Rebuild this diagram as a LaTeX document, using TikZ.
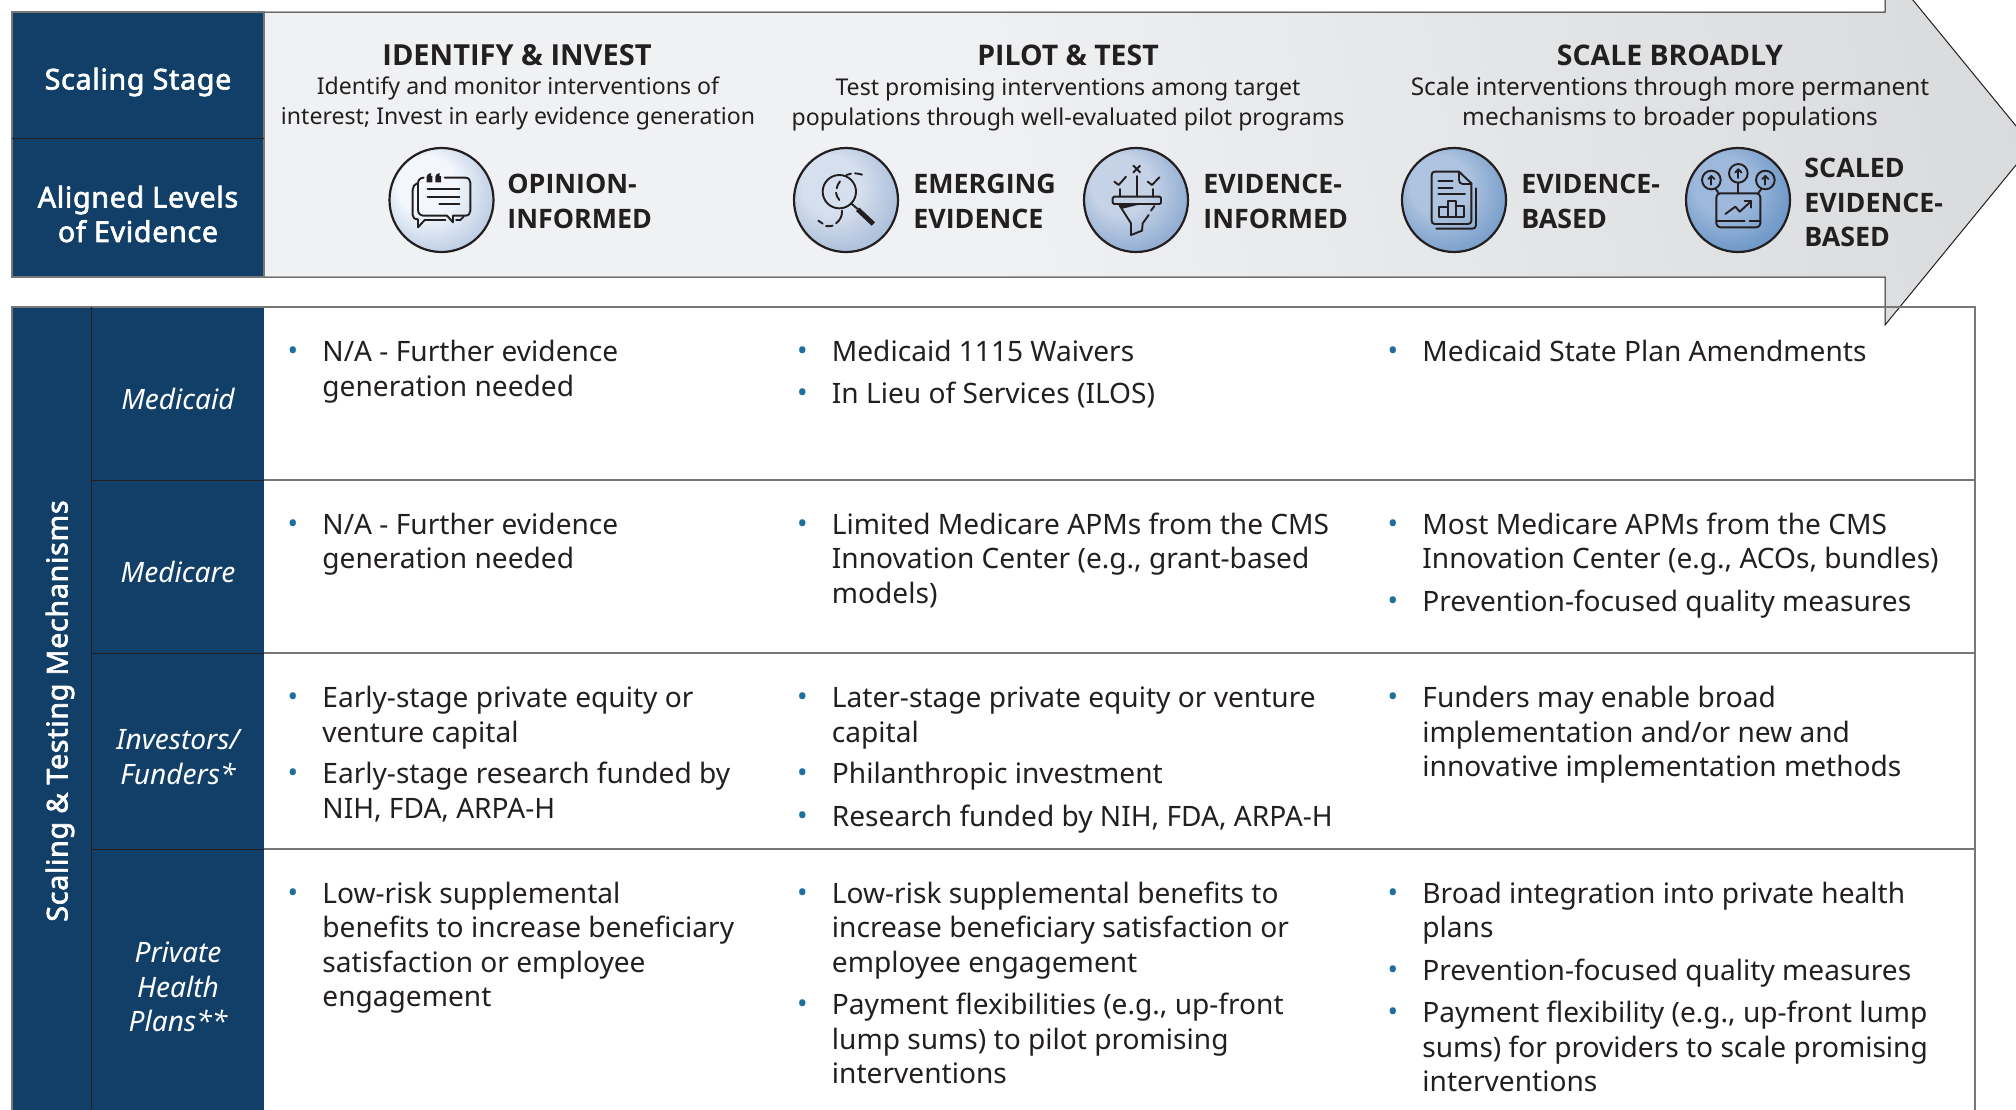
\documentclass[tikz,border=0pt]{standalone}
\usepackage{fontspec}
\setmainfont{Noto Sans}
\newfontfamily\fakeb{Noto Sans}[FakeBold=2.4,LetterSpace=2.5]
\newfontfamily\capsb{Open Sans}
\definecolor{navy}{HTML}{113F67}
\definecolor{ink}{HTML}{231F20}
\definecolor{rulegray}{HTML}{777777}
\definecolor{bulletc}{HTML}{1F6F9E}
\newcommand{\bodyfont}{\fontsize{14.05pt}{17.25pt}\selectfont}
\newcommand{\subfont}{\fontsize{11.55pt}{15pt}\selectfont}
\newcommand{\subfontb}{\fontsize{12.2pt}{15pt}\selectfont}
\newcommand{\titlefont}{\capsb\bfseries\fontsize{14.2pt}{17.25pt}\selectfont}
\newcommand{\titlefontb}{\capsb\bfseries\fontsize{14.5pt}{17.25pt}\selectfont}
\newcommand{\levelfont}{\capsb\bfseries\fontsize{13.4pt}{17.25pt}\selectfont}
\newcommand{\headfont}{\fakeb\fontsize{14.3pt}{17.25pt}\selectfont}
\newcommand{\mystrut}{\rule[-5.2pt]{0pt}{17.25pt}}
\newcommand{\defcirc}[3]{%
  \definecolor{c#1a}{HTML}{#2}\definecolor{c#1b}{HTML}{#3}%
  \pgfdeclareradialshading{circ#1}{\pgfpoint{-10bp}{10bp}}{%
    color(0bp)=(c#1a); color(14bp)=(c#1a); color(36bp)=(c#1b); color(50bp)=(c#1b)}}
\defcirc{op}{F3F7FD}{A9BEDB}
\defcirc{em}{D6DFED}{9CB3D4}
\defcirc{ei}{C6D3E7}{7C9ECA}
\defcirc{eb}{AEC3DF}{6692C3}
\defcirc{sc}{9DB8DB}{5A8BBF}
\definecolor{arrL}{HTML}{F0F1F3}
\definecolor{arrR}{HTML}{CBCCCE}
\pgfdeclarehorizontalshading{arrowsh}{100bp}{color(0bp)=(arrL); color(44bp)=(arrL); color(100bp)=(arrR)}
\tikzset{
  x=0.5pt,y=-0.5pt,
  darkbox/.style={fill=navy,draw=rulegray,line width=0.7pt},
  hrule/.style={draw=rulegray,line width=0.7pt},
  cell/.style={anchor=north west,inner sep=0pt,align=left,font=\bodyfont,text=ink},
  bmark/.style={inner sep=0pt,font=\bodyfont,text=bulletc},
  rowlabel/.style={inner sep=0pt,align=center,font=\bodyfont\itshape,text=white},
  headlabel/.style={inner sep=0pt,align=center,font=\headfont,text=white},
  stagetitle/.style={inner sep=0pt,align=center,font=\titlefont,text=ink},
  stagesub/.style={inner sep=0pt,align=center,font=\subfont,text=ink},
  levellabel/.style={inner sep=0pt,anchor=north west,align=left,font=\levelfont,text=ink},
  ring/.style={draw=ink,line width=1.1pt},
  ico/.style={draw=ink,line width=0.95pt,line cap=round,line join=round},
  zoomed/.style={shift={#1},x=0.16667pt,y=-0.16667pt},
}
\newcommand{\bitem}[4]{%
  \node[bmark] (#1b) at ({#2-29},{#3+3}) {•};
  \node[cell] (#1) at (#2,{#3-14}) {\mystrut #4};}
\begin{document}
\begin{tikzpicture}
\useasboundingbox (0,0) rectangle (2016,1109);
\clip (0,0) rectangle (2016,1109);
% arrow
\path[shading=arrowsh,shading angle=12] (264,12) -- (1885,12) -- (1885,-34) -- (2032,145.5) -- (1885,325) -- (1885,277) -- (264,277) -- cycle;
\draw[draw=ink,line width=0.5pt] (264,12) -- (1885,12) -- (1885,-34) -- (2032,145.5) -- (1885,325) -- (1885,277) -- (264,277);
% header box
\draw[darkbox] (12,12) rectangle (264,277);
\draw[draw=ink,line width=0.5pt] (12,138) -- (264,138);
\node[headlabel] (stage) at (138,82) {Scaling Stage};
\node[headlabel] (levels) at (138,214) {Aligned Levels\\of Evidence};
% stage heads
\node[stagetitle,font=\titlefontb] (t1) at (517,55) {IDENTIFY \& INVEST};
\node[stagetitle] (t2) at (1068,55) {PILOT \& TEST};
\node[stagetitle] (t3) at (1670,55) {SCALE BROADLY};
\node[stagesub] (s1) at (518,103) {Identify and monitor interventions of\\interest; Invest in early evidence generation};
\node[stagesub] (s2) at (1068,104.5) {Test promising interventions among target\\populations through well-evaluated pilot programs};
\node[stagesub,font=\subfontb] (s3) at (1670,104.5) {Scale interventions through more permanent\\mechanisms to broader populations};
% level labels
\node[levellabel] (l1) at (507,169) {\mystrut OPINION-\\INFORMED};
\node[levellabel] (l2) at (913,169) {\mystrut EMERGING\\EVIDENCE};
\node[levellabel] (l3) at (1203,169) {\mystrut EVIDENCE-\\INFORMED};
\node[levellabel] (l4) at (1521,169) {\mystrut EVIDENCE-\\BASED};
\node[levellabel] (l5) at (1804,153) {\mystrut SCALED\\EVIDENCE-\\BASED};
% circles
\path[shading=circop] (441.5,200) circle[radius=52];
\draw[ring] (441.5,200) circle[radius=52];
\path[shading=circem] (846,200) circle[radius=52];
\draw[ring] (846,200) circle[radius=52];
\path[shading=circei] (1136,200) circle[radius=52];
\draw[ring] (1136,200) circle[radius=52];
\path[shading=circeb] (1454,200) circle[radius=52];
\draw[ring] (1454,200) circle[radius=52];
\path[shading=circsc] (1738,200) circle[radius=52];
\draw[ring] (1738,200) circle[radius=52];
% opinion icon
\begin{scope}[zoomed={(382,140)}]
\draw[ico] (125,113) .. controls (115,113) and (108,120) .. (108,130) -- (108,210) .. controls (108,220) and (115,227) .. (125,227) -- (195,227) -- (213,247) -- (213,227) -- (250,227) .. controls (260,227) and (265,220) .. (265,212) -- (265,128) .. controls (265,120) and (260,113) .. (250,113) -- (188,113);
\draw[ico] (105,130) .. controls (97,133) and (92,140) .. (92,150) -- (92,225) .. controls (92,233) and (98,238) .. (108,238) -- (108,262) -- (128,240) -- (190,240);
\draw[ico] (222,240) -- (235,240) -- (245,230);
\draw[ico] (137,147) -- (232,147);
\draw[ico] (137,170) -- (232,170);
\draw[ico] (172,192) -- (232,192);
\fill[ink] (134,127) -- (134,110) .. controls (134,104) and (140,100) .. (147,99) -- (147,108) -- (151,108) -- (151,127) -- cycle;
\fill[ink] (160,127) -- (160,110) .. controls (160,104) and (166,100) .. (173,99) -- (173,108) -- (177,108) -- (177,127) -- cycle;
\end{scope}
% magnifier icon
\begin{scope}[zoomed={(786,140)}]
\draw[ico] (160,155) circle[radius=50];
\draw[ico] (195,190) -- (215,207);
\draw[ink,line width=2.4pt] (215,208) -- (262,252);
\draw[ico] (181,105) .. controls (186,103) and (190,102) .. (195,101);
\draw[ico] (207,100) .. controls (214,100) and (221,102) .. (228,104);
\draw[ico] (162,124) .. controls (157,130) and (153,138) .. (152,145);
\draw[ico] (150,158) .. controls (151,166) and (155,174) .. (160,180);
\draw[ico] (168,212) .. controls (169,225) and (164,240) .. (150,250);
\draw[ico] (140,257) .. controls (133,259) and (127,259) .. (120,258);
\draw[ico] (110,251) -- (97,242);
\end{scope}
% funnel icon
\begin{scope}[zoomed={(1076,140)}]
\draw[ico] (114,170) -- (251,170) -- (255,174) -- (255,188) -- (251,192) -- (114,192) -- (110,188) -- (110,174) -- cycle;
\draw[ico] (172,77) -- (192,97);
\draw[ico] (192,77) -- (172,97);
\draw[ico] (182,108) -- (182,168);
\draw[ico] (115,125) -- (128,135) -- (150,110);
\draw[ico] (132,147) -- (132,170);
\draw[ico] (215,125) -- (228,135) -- (250,112);
\draw[ico] (230,147) -- (230,170);
\draw[ico] (130,195) -- (165,250) -- (165,285) -- (198,272) -- (200,250) -- (218,225);
\draw[ico] (225,212) -- (235,198);
\fill[ink] (130,193) -- (192,193) -- (140,206) -- cycle;
\end{scope}
% document icon
\begin{scope}[zoomed={(1394,140)}]
\draw[ico] (122,95) -- (195,95) -- (232,130) -- (232,242) .. controls (232,248) and (228,252) .. (222,252) -- (122,252) .. controls (116,252) and (113,248) .. (113,242) -- (113,105) .. controls (113,99) and (116,95) .. (122,95) -- cycle;
\draw[ico] (195,95) -- (195,120) .. controls (195,127) and (199,132) .. (206,132) -- (232,132);
\draw[ico] (127,266) -- (235,266) .. controls (242,266) and (246,262) .. (246,255) -- (246,145);
\draw[ico] (133,122) -- (176,122);
\draw[ico] (133,143) -- (176,143);
\draw[ico] (133,162) -- (213,162);
\draw[ico] (136,200) rectangle (161,230);
\draw[ico] (161,183) rectangle (186,230);
\draw[ico] (186,197) rectangle (210,230);
\end{scope}
% growth icon
\begin{scope}[zoomed={(1678,140)}]
\draw[ico] (100,120) circle[radius=28];
\draw[ico] (181,100) circle[radius=28];
\draw[ico] (262,120) circle[radius=28];
\draw[ico] (100,134) -- (100,108);
\draw[ico] (91,117) -- (100,108) -- (109,117);
\draw[ico] (181,114) -- (181,88);
\draw[ico] (172,97) -- (181,88) -- (190,97);
\draw[ico] (262,134) -- (262,108);
\draw[ico] (253,117) -- (262,108) -- (271,117);
\draw[ico] (112,145) -- (122,160);
\draw[ico] (181,128) -- (181,160);
\draw[ico] (250,147) -- (240,160);
\draw[ico] (127,160) -- (235,160) .. controls (242,160) and (247,165) .. (247,172) -- (247,250) .. controls (247,257) and (242,262) .. (235,262) -- (127,262) .. controls (120,262) and (115,257) .. (115,250) -- (115,172) .. controls (115,165) and (120,160) .. (127,160) -- cycle;
\draw[ico] (115,242) -- (200,242);
\draw[ico] (215,242) -- (247,242);
\draw[ico] (142,222) -- (172,200) -- (185,215) -- (220,183);
\draw[ico] (200,183) -- (220,183) -- (220,203);
\end{scope}
% table
\fill[navy] (12,307) rectangle (264,1120);
\draw[hrule] (12,1120) -- (12,307) -- (1975,307) -- (1975,1120);
\draw[draw=ink,line width=0.5pt] (91,307) -- (91,1120);
\draw[draw=ink,line width=0.5pt] (91,480) -- (264,480);
\draw[draw=ink,line width=0.5pt] (91,653) -- (264,653);
\draw[draw=ink,line width=0.5pt] (91,849) -- (264,849);
\draw[hrule] (264,480) -- (1975,480);
\draw[hrule] (264,653) -- (1975,653);
\draw[hrule] (264,849) -- (1975,849);
\node[headlabel,rotate=90] (mech) at (60,711) {Scaling \& Testing Mechanisms};
\node[rowlabel] (r1) at (178,398.5) {Medicaid};
\node[rowlabel] (r2) at (178,571.5) {Medicare};
\node[rowlabel] (r3) at (178,757) {Investors/\\Funders*};
\node[rowlabel] (r4) at (178,987) {Private\\Health\\Plans**};
% row 1
\bitem{a1}{322}{351}{N/A - Further evidence\\generation needed}
\bitem{a2}{831.5}{351}{Medicaid 1115 Waivers}
\bitem{a3}{831.5}{393}{In Lieu of Services (ILOS)}
\bitem{a4}{1422}{351}{Medicaid State Plan Amendments}
% row 2
\bitem{b1}{322}{523.5}{N/A - Further evidence\\generation needed}
\bitem{b2}{831.5}{523.5}{Limited Medicare APMs from the CMS\\Innovation Center (e.g., grant-based\\models)}
\bitem{b3}{1422}{523.5}{Most Medicare APMs from the CMS\\Innovation Center (e.g., ACOs, bundles)}
\bitem{b4}{1422}{601}{Prevention-focused quality measures}
% row 3
\bitem{c1}{322}{697}{Early-stage private equity or\\venture capital}
\bitem{c2}{322}{773}{Early-stage research funded by\\NIH, FDA, ARPA-H}
\bitem{c3}{831.5}{697}{Later-stage private equity or venture\\capital}
\bitem{c4}{831.5}{773}{Philanthropic investment}
\bitem{c5}{831.5}{815.5}{Research funded by NIH, FDA, ARPA-H}
\bitem{c6}{1422}{697}{Funders may enable broad\\implementation and/or new and\\innovative implementation methods}
% row 4
\bitem{d1}{322}{892.5}{Low-risk supplemental\\benefits to increase beneficiary\\satisfaction or employee\\engagement}
\bitem{d2}{831.5}{892.5}{Low-risk supplemental benefits to\\increase beneficiary satisfaction or\\employee engagement}
\bitem{d3}{831.5}{1004}{Payment flexibilities (e.g., up-front\\lump sums) to pilot promising\\interventions}
\bitem{d4}{1422}{892.5}{Broad integration into private health\\plans}
\bitem{d5}{1422}{970}{Prevention-focused quality measures}
\bitem{d6}{1422}{1012}{Payment flexibility (e.g., up-front lump\\sums) for providers to scale promising\\interventions}
\end{tikzpicture}
\end{document}
